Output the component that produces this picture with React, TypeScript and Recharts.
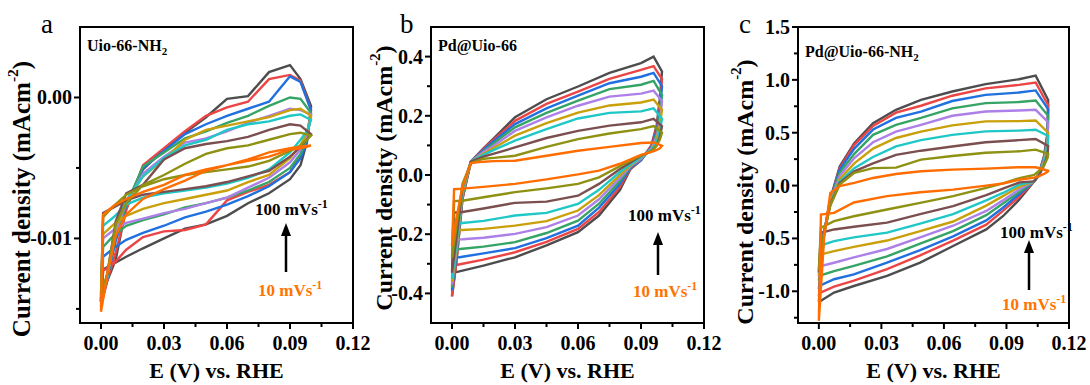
import { Line, LineChart, ReferenceArea, XAxis, YAxis } from "recharts";

const rates = [100, 90, 80, 70, 60, 50, 40, 30, 20, 10];
const colors = ["#4d4d4d", "#eb4545", "#2070e0", "#35a465", "#ad80e8", "#c9a00a", "#1fc7c7", "#7b4f50", "#8e9112", "#ff6d00"];

const xMajor = [0, 0.03, 0.06, 0.09, 0.12];
const xMinor = [0.015, 0.045, 0.075, 0.105];

// panel a: Uio-66-NH2
const aUpX = [0, 0.003, 0.007, 0.012, 0.02, 0.03, 0.04, 0.05, 0.06, 0.07, 0.08, 0.09, 0.095, 0.1];
const aUpper = [
  [-0.0145, -0.013, -0.0115, -0.0078, -0.0051, -0.0037, -0.0025, -0.0014, -0.0001, 0.0001, 0.0018, 0.0023, 0.0013, -0.0006],
  [-0.0148, -0.013, -0.011, -0.008, -0.0048, -0.0036, -0.0024, -0.0013, -0.0007, -0.0003, 0.0013, 0.0016, 0.0012, -0.0009],
  [-0.0143, -0.0128, -0.0102, -0.0077, -0.005, -0.0038, -0.0026, -0.0019, -0.0013, -0.0008, -0.0003, 0.0015, 0.0011, -0.0009],
  [-0.0145, -0.0128, -0.0098, -0.0076, -0.0049, -0.0039, -0.0029, -0.0024, -0.0018, -0.0013, -0.0006, 0.0, -0.0001, -0.0011],
  [-0.0143, -0.0127, -0.0095, -0.0075, -0.0054, -0.0042, -0.0032, -0.0029, -0.0024, -0.0018, -0.0013, -0.0008, -0.0009, -0.0012],
  [-0.014, -0.0126, -0.0092, -0.0074, -0.0056, -0.0044, -0.003, -0.0023, -0.002, -0.0017, -0.0014, -0.0009, -0.0008, -0.0013],
  [-0.0145, -0.0127, -0.009, -0.0073, -0.0056, -0.0043, -0.0034, -0.003, -0.0023, -0.0019, -0.0017, -0.0013, -0.0012, -0.0016],
  [-0.0145, -0.0125, -0.0088, -0.0068, -0.0062, -0.0044, -0.0036, -0.0033, -0.0031, -0.0028, -0.0023, -0.0019, -0.002, -0.0026],
  [-0.014, -0.0125, -0.009, -0.0075, -0.0062, -0.0055, -0.0047, -0.004, -0.0036, -0.0034, -0.003, -0.0026, -0.0025, -0.0027],
  [-0.0152, -0.0125, -0.0098, -0.0083, -0.0072, -0.0065, -0.0059, -0.0052, -0.0048, -0.0044, -0.0039, -0.0036, -0.0035, -0.0034],
];
const aDownX = [0.1, 0.098, 0.095, 0.09, 0.08, 0.07, 0.06, 0.05, 0.04, 0.03, 0.02, 0.012, 0.006, 0.001];
const aLower = [
  [-0.0007, -0.0032, -0.0048, -0.0058, -0.0068, -0.0075, -0.0084, -0.009, -0.0093, -0.01, -0.0107, -0.0113, -0.0118, -0.0122],
  [-0.0009, -0.0028, -0.0041, -0.0053, -0.0062, -0.0067, -0.0073, -0.009, -0.0094, -0.0095, -0.0099, -0.0108, -0.0118, -0.0123],
  [-0.0009, -0.0032, -0.0043, -0.0053, -0.0063, -0.007, -0.0076, -0.0081, -0.0085, -0.0091, -0.0096, -0.0101, -0.0107, -0.0113],
  [-0.0012, -0.003, -0.004, -0.005, -0.006, -0.0066, -0.0071, -0.0075, -0.0078, -0.0083, -0.0087, -0.0091, -0.0098, -0.0106],
  [-0.0013, -0.0027, -0.0037, -0.0046, -0.0057, -0.0064, -0.0071, -0.0075, -0.0079, -0.0082, -0.0086, -0.0089, -0.0094, -0.01],
  [-0.0014, -0.0025, -0.0034, -0.0043, -0.0055, -0.006, -0.0066, -0.0069, -0.0072, -0.0075, -0.0079, -0.0084, -0.009, -0.0097],
  [-0.0016, -0.0024, -0.003, -0.0039, -0.0051, -0.0057, -0.0061, -0.0064, -0.0066, -0.0068, -0.0071, -0.0076, -0.0085, -0.0091],
  [-0.0026, -0.003, -0.0035, -0.0042, -0.0052, -0.0056, -0.006, -0.0063, -0.0065, -0.0067, -0.0069, -0.0073, -0.0078, -0.0082],
  [-0.0027, -0.003, -0.0034, -0.0038, -0.0045, -0.0049, -0.0051, -0.0053, -0.0055, -0.0058, -0.0063, -0.0069, -0.0077, -0.0085],
  [-0.0034, -0.0035, -0.0036, -0.0037, -0.0042, -0.0045, -0.0048, -0.0051, -0.0055, -0.0062, -0.0067, -0.0072, -0.0077, -0.0083],
];

// panel b: Pd@Uio-66
const bUpX = [0, 0.002, 0.005, 0.009, 0.015, 0.02, 0.03, 0.045, 0.06, 0.075, 0.09, 0.096, 0.1];
const bUpper = [
  [-0.41, -0.3, -0.08, 0.045, 0.09, 0.125, 0.195, 0.256, 0.299, 0.345, 0.378, 0.4, 0.35],
  [-0.41, -0.3, -0.08, 0.045, 0.088, 0.12, 0.183, 0.24, 0.282, 0.325, 0.355, 0.368, 0.324],
  [-0.39, -0.28, -0.07, 0.045, 0.085, 0.115, 0.172, 0.225, 0.268, 0.31, 0.332, 0.345, 0.3],
  [-0.38, -0.27, -0.07, 0.045, 0.08, 0.108, 0.161, 0.21, 0.251, 0.29, 0.305, 0.318, 0.27],
  [-0.37, -0.26, -0.06, 0.045, 0.078, 0.1, 0.149, 0.195, 0.234, 0.265, 0.275, 0.285, 0.25],
  [-0.36, -0.25, -0.06, 0.045, 0.072, 0.092, 0.133, 0.175, 0.211, 0.235, 0.245, 0.255, 0.22],
  [-0.35, -0.24, -0.05, 0.045, 0.068, 0.085, 0.116, 0.155, 0.191, 0.21, 0.215, 0.225, 0.19],
  [-0.33, -0.22, -0.04, 0.045, 0.062, 0.072, 0.093, 0.125, 0.149, 0.167, 0.178, 0.19, 0.165],
  [-0.28, -0.18, -0.03, 0.04, 0.055, 0.058, 0.065, 0.095, 0.121, 0.14, 0.155, 0.165, 0.143],
  [-0.24, -0.15, -0.04, 0.04, 0.045, 0.047, 0.048, 0.065, 0.082, 0.095, 0.108, 0.11, 0.099],
];
const bDownX = [0.099, 0.0975, 0.095, 0.09, 0.085, 0.08, 0.07, 0.06, 0.045, 0.03, 0.015, 0.005, 0.001];
const bLower = [
  [0.26, 0.17, 0.1, 0.05, 0.02, -0.05, -0.137, -0.193, -0.238, -0.278, -0.306, -0.323, -0.33],
  [0.24, 0.16, 0.1, 0.05, 0.022, -0.04, -0.125, -0.182, -0.226, -0.261, -0.286, -0.3, -0.306],
  [0.22, 0.15, 0.095, 0.05, 0.025, -0.03, -0.11, -0.171, -0.213, -0.247, -0.265, -0.276, -0.281],
  [0.2, 0.14, 0.09, 0.055, 0.028, -0.02, -0.097, -0.154, -0.196, -0.227, -0.242, -0.249, -0.252],
  [0.18, 0.13, 0.09, 0.055, 0.03, -0.01, -0.082, -0.137, -0.176, -0.199, -0.212, -0.217, -0.218],
  [0.17, 0.12, 0.085, 0.06, 0.033, 0.0, -0.068, -0.12, -0.156, -0.171, -0.182, -0.186, -0.186],
  [0.15, 0.11, 0.085, 0.06, 0.036, 0.01, -0.05, -0.098, -0.128, -0.137, -0.155, -0.162, -0.165],
  [0.13, 0.1, 0.08, 0.065, 0.042, 0.02, -0.03, -0.07, -0.09, -0.094, -0.113, -0.125, -0.127],
  [0.12, 0.1, 0.08, 0.065, 0.048, 0.03, -0.008, -0.03, -0.045, -0.058, -0.075, -0.087, -0.088],
  [0.09, 0.085, 0.078, 0.068, 0.053, 0.038, 0.015, 0.002, -0.015, -0.03, -0.04, -0.046, -0.048],
];

// panel c: Pd@Uio-66-NH2
const cUpX = [0, 0.0025, 0.0055, 0.01, 0.017, 0.026, 0.037, 0.049, 0.064, 0.08, 0.096, 0.104, 0.11];
const cUpper = [
  [-1.1, -0.45, -0.13, 0.18, 0.4, 0.59, 0.717, 0.81, 0.89, 0.96, 1.006, 1.04, 0.81],
  [-1.05, -0.45, -0.13, 0.165, 0.385, 0.565, 0.69, 0.755, 0.85, 0.92, 0.953, 0.975, 0.76],
  [-0.98, -0.45, -0.13, 0.15, 0.35, 0.53, 0.64, 0.7, 0.8, 0.858, 0.88, 0.9, 0.72],
  [-0.9, -0.45, -0.14, 0.12, 0.3, 0.48, 0.575, 0.64, 0.73, 0.78, 0.79, 0.805, 0.66],
  [-0.87, -0.45, -0.15, 0.09, 0.26, 0.41, 0.51, 0.575, 0.66, 0.7, 0.71, 0.717, 0.6],
  [-0.85, -0.45, -0.16, 0.06, 0.21, 0.35, 0.45, 0.51, 0.57, 0.607, 0.61, 0.616, 0.5],
  [-0.83, -0.45, -0.17, 0.04, 0.165, 0.27, 0.37, 0.43, 0.48, 0.513, 0.52, 0.528, 0.47],
  [-0.82, -0.45, -0.18, 0.025, 0.135, 0.21, 0.29, 0.33, 0.37, 0.41, 0.43, 0.44, 0.375],
  [-0.8, -0.45, -0.19, 0.01, 0.12, 0.165, 0.17, 0.245, 0.28, 0.31, 0.324, 0.34, 0.3],
  [-1.28, -0.5, -0.07, -0.005, 0.025, 0.072, 0.11, 0.135, 0.151, 0.16, 0.173, 0.173, 0.14],
];
const cDownX = [0.1097, 0.108, 0.1057, 0.1033, 0.0962, 0.0883, 0.0803, 0.0644, 0.0486, 0.0327, 0.0168, 0.0073, 0.001];
const cLower = [
  [0.497, 0.277, 0.12, 0.04, -0.132, -0.29, -0.415, -0.572, -0.729, -0.855, -0.95, -1.012, -1.09],
  [0.48, 0.27, 0.12, 0.04, -0.105, -0.24, -0.37, -0.52, -0.66, -0.79, -0.9, -0.955, -1.01],
  [0.46, 0.26, 0.12, 0.04, -0.08, -0.21, -0.33, -0.48, -0.61, -0.73, -0.84, -0.886, -0.943],
  [0.43, 0.25, 0.11, 0.04, -0.06, -0.17, -0.28, -0.43, -0.55, -0.67, -0.76, -0.81, -0.849],
  [0.4, 0.24, 0.11, 0.04, -0.035, -0.14, -0.24, -0.38, -0.49, -0.6, -0.68, -0.73, -0.761],
  [0.36, 0.22, 0.11, 0.04, -0.01, -0.1, -0.19, -0.34, -0.43, -0.52, -0.58, -0.62, -0.651],
  [0.33, 0.21, 0.1, 0.04, 0.01, -0.07, -0.14, -0.27, -0.36, -0.445, -0.49, -0.525, -0.566],
  [0.29, 0.19, 0.1, 0.04, 0.03, -0.03, -0.09, -0.195, -0.27, -0.35, -0.39, -0.415, -0.446],
  [0.26, 0.19, 0.14, 0.1, 0.07, 0.02, -0.022, -0.1, -0.163, -0.226, -0.29, -0.337, -0.399],
  [0.13, 0.11, 0.09, 0.075, 0.055, 0.02, 0.0, -0.038, -0.063, -0.1, -0.16, -0.258, -0.274],
];

const FONT = '"Liberation Serif", "Times New Roman", serif';
const W = 1090;
const H = 385;
const Y_AXIS_W = 70;

function loop(upX: number[], up: number[], downX: number[], down: number[]) {
  const pts = upX.map((x, i) => ({ x, y: up[i] }));
  downX.forEach((x, i) => pts.push({ x, y: down[i] }));
  pts.push({ x: upX[0], y: up[0] });
  return pts;
}

const near = (v: number, list: number[]) => list.some((m) => Math.abs(m - v) < 1e-9);

function XTick(props: any) {
  const { x, y, payload } = props;
  const major = near(payload.value, xMajor);
  return (
    <g>
      <line x1={x} x2={x} y1={y} y2={y + (major ? 6 : 4)} stroke="#000" strokeWidth={2} />
      {major && (
        <text x={x} y={y + 27} textAnchor="middle" fontFamily={FONT} fontWeight="bold" fontSize={20} fill="#000">
          {payload.value.toFixed(2)}
        </text>
      )}
    </g>
  );
}

function makeYTick(major: number[], digits: number) {
  return function YTick(props: any) {
    const { x, y, payload } = props;
    const isMajor = near(payload.value, major);
    return (
      <g>
        <line x1={x} x2={x - (isMajor ? 6 : 4)} y1={y} y2={y} stroke="#000" strokeWidth={2} />
        {isMajor && (
          <text x={x - 8} y={y + 7} textAnchor="end" fontFamily={FONT} fontWeight="bold" fontSize={20} fill="#000">
            {payload.value.toFixed(digits)}
          </text>
        )}
      </g>
    );
  };
}

type PanelProps = {
  plotLeft: number;
  plotRight: number;
  upX: number[];
  upper: number[][];
  downX: number[];
  lower: number[][];
  yDomain: [number, number];
  yMajor: number[];
  yMinor: number[];
  digits: number;
  letter: string;
  letterX: number;
  sample: string;
  sampleSub: boolean;
  sampleX: number;
  sampleY: number;
  titleX: number;
  titleY: number;
  titleSize: number;
  note100X: number;
  note100Y: number;
  note10X: number;
  note10Y: number;
  arrowX: number;
  arrowTip: number;
  arrowTail: number;
};

function Panel(p: PanelProps) {
  const YTick = makeYTick(p.yMajor, p.digits);
  const xCenter = (p.plotLeft + p.plotRight) / 2;
  return (
    <div style={{ position: "absolute", left: 0, top: 0 }}>
      <LineChart
        width={W}
        height={H}
        margin={{ top: 27, right: W - p.plotRight, bottom: 0, left: p.plotLeft - Y_AXIS_W }}
      >
        <XAxis
          dataKey="x"
          type="number"
          domain={[-0.01, 0.12]}
          allowDataOverflow
          ticks={[...xMajor, ...xMinor].sort((m, n) => m - n)}
          interval={0}
          tickLine={false}
          tickSize={0}
          tickMargin={0}
          height={62}
          axisLine={{ stroke: "#000", strokeWidth: 2 }}
          tick={(t: any) => <XTick {...t} />}
        />
        <YAxis
          type="number"
          domain={p.yDomain}
          allowDataOverflow
          ticks={[...p.yMajor, ...p.yMinor].sort((m, n) => m - n)}
          interval={0}
          tickLine={false}
          tickSize={0}
          tickMargin={0}
          width={Y_AXIS_W}
          axisLine={{ stroke: "#000", strokeWidth: 2 }}
          tick={(t: any) => <YTick {...t} />}
        />
        <ReferenceArea
          x1={-0.01}
          x2={0.12}
          y1={p.yDomain[0]}
          y2={p.yDomain[1]}
          fill="none"
          stroke="#000"
          strokeWidth={2}
          ifOverflow="visible"
        />
        {rates.map((r, i) => (
          <Line
            key={r}
            data={loop(p.upX, p.upper[i], p.downX, p.lower[i])}
            dataKey="y"
            type="linear"
            stroke={colors[i]}
            strokeWidth={2.4}
            dot={false}
            activeDot={false}
            isAnimationActive={false}
          />
        ))}
        <text x={p.letterX} y={33} fontFamily={FONT} fontSize={27} fill="#000">
          {p.letter}
        </text>
        <text x={p.sampleX} y={p.sampleY} fontFamily={FONT} fontWeight="bold" fontSize={16} fill="#000">
          {p.sample}
          {p.sampleSub && (
            <tspan dy={4} fontSize={11}>
              2
            </tspan>
          )}
        </text>
        <text x={p.note100X} y={p.note100Y} fontFamily={FONT} fontWeight="bold" fontSize={17} fill="#000">
          100 mVs
          <tspan dy={-7} fontSize={12}>
            -1
          </tspan>
        </text>
        <text x={p.note10X} y={p.note10Y} fontFamily={FONT} fontWeight="bold" fontSize={17} fill="#ff7400">
          10 mVs
          <tspan dy={-7} fontSize={12}>
            -1
          </tspan>
        </text>
        <line x1={p.arrowX} x2={p.arrowX} y1={p.arrowTail} y2={p.arrowTip + 10} stroke="#000" strokeWidth={2.5} />
        <polygon
          points={`${p.arrowX},${p.arrowTip} ${p.arrowX - 5},${p.arrowTip + 13} ${p.arrowX + 5},${p.arrowTip + 13}`}
          fill="#000"
        />
        <text
          x={p.titleX}
          y={p.titleY}
          transform={`rotate(-90 ${p.titleX} ${p.titleY})`}
          textAnchor="middle"
          dominantBaseline="central"
          fontFamily={FONT}
          fontWeight="bold"
          fontSize={p.titleSize}
          fill="#000"
        >
          Current density (mAcm
          <tspan dy={-9} fontSize={p.titleSize * 0.62}>
            -2
          </tspan>
          <tspan dy={9}>)</tspan>
        </text>
        <text x={xCenter} y={378} textAnchor="middle" fontFamily={FONT} fontWeight="bold" fontSize={22} fill="#000">
          E (V) vs. RHE
        </text>
      </LineChart>
    </div>
  );
}

export default function App() {
  return (
    <div style={{ position: "absolute", left: 0, top: 0, width: W, height: H, background: "#fff" }}>
      <Panel
        plotLeft={80}
        plotRight={353}
        upX={aUpX}
        upper={aUpper}
        downX={aDownX}
        lower={aLower}
        yDomain={[-0.016, 0.005]}
        yMajor={[-0.01, 0]}
        yMinor={[-0.015, -0.005]}
        digits={2}
        letter="a"
        letterX={41}
        sample="Uio-66-NH"
        sampleSub
        sampleX={87}
        sampleY={51}
        titleX={21}
        titleY={199}
        titleSize={25}
        note100X={255}
        note100Y={215}
        note10X={258}
        note10Y={296}
        arrowX={286}
        arrowTip={223}
        arrowTail={272}
      />
      <Panel
        plotLeft={431}
        plotRight={704}
        upX={bUpX}
        upper={bUpper}
        downX={bDownX}
        lower={bLower}
        yDomain={[-0.5, 0.5]}
        yMajor={[-0.4, -0.2, 0, 0.2, 0.4]}
        yMinor={[-0.3, -0.1, 0.1, 0.3]}
        digits={1}
        letter="b"
        letterX={400}
        sample="Pd@Uio-66"
        sampleSub={false}
        sampleX={438}
        sampleY={51}
        titleX={384}
        titleY={178}
        titleSize={24}
        note100X={628}
        note100Y={221}
        note10X={633}
        note10Y={297}
        arrowX={658}
        arrowTip={232}
        arrowTail={275}
      />
      <Panel
        plotLeft={798}
        plotRight={1069}
        upX={cUpX}
        upper={cUpper}
        downX={cDownX}
        lower={cLower}
        yDomain={[-1.3, 1.5]}
        yMajor={[-1, -0.5, 0, 0.5, 1, 1.5]}
        yMinor={[-1.25, -0.75, -0.25, 0.25, 0.75, 1.25]}
        digits={1}
        letter="c"
        letterX={739}
        sample="Pd@Uio-66-NH"
        sampleSub
        sampleX={805}
        sampleY={57}
        titleX={745}
        titleY={192}
        titleSize={24}
        note100X={1000}
        note100Y={238}
        note10X={1002}
        note10Y={310}
        arrowX={1029}
        arrowTip={240}
        arrowTail={290}
      />
    </div>
  );
}
